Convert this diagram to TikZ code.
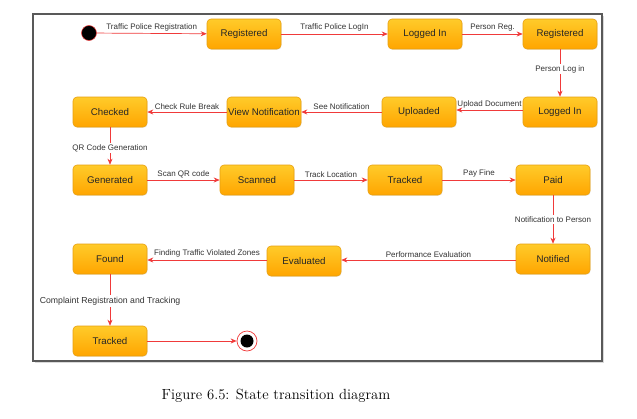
\documentclass[tikz,border=0pt]{standalone}
\usepackage{fontspec}
\newfontfamily\arial{Liberation Sans}
\usetikzlibrary{arrows.meta,shadows}
\definecolor{edgered}{HTML}{F03A3A}
\definecolor{boxtop}{HTML}{FFCB2A}
\definecolor{boxbot}{HTML}{FFA500}
\definecolor{boxline}{HTML}{E8A010}
\definecolor{lbl}{HTML}{333333}
\begin{document}
\begin{tikzpicture}[x=1pt,y=-1pt,
  state/.style={rectangle,rounded corners=4pt,minimum width=74pt,minimum height=30pt,
    top color=boxtop,bottom color=boxbot,draw=boxline,line width=0.6pt,
    font=\arial\fontsize{9.7}{11}\selectfont,text=black!85,inner sep=1pt,
    drop shadow={shadow xshift=0.6pt,shadow yshift=-0.8pt,opacity=0.15}},
  trans/.style={draw=edgered,line width=0.7pt,-{Stealth[length=6pt,width=5pt]}},
  elabel/.style={font=\arial\fontsize{8}{9}\selectfont,text=lbl,inner sep=1pt},
  vlabel/.style={elabel,fill=white,inner sep=1.5pt}]
\useasboundingbox (0,0) rectangle (637,418);
% frame
\fill[black!15] (35,16) rectangle (604,363);
\draw[black!65,line width=1.3pt,fill=white] (33,14) rectangle (602,361);
% initial / final
\node[circle,fill=black,draw=edgered,line width=0.5pt,minimum size=15pt,inner sep=0] (init) at (89,33) {};
\node[circle,draw=edgered,line width=0.7pt,fill=white,minimum size=20pt,inner sep=0] (fin) at (247,341) {};
\node[circle,fill=black,minimum size=13pt,inner sep=0] at (fin) {};
% states
\node[state] (reg1) at (244,34) {Registered};
\node[state] (log1) at (425,34) {Logged In};
\node[state] (reg2) at (560,34) {Registered};
\node[state] (log2) at (560,112) {Logged In};
\node[state] (upl) at (419,112) {Uploaded};
\node[state] (view) at (264,112) {View Notification};
\node[state] (chk) at (110,112) {Checked};
\node[state] (gen) at (110,180) {Generated};
\node[state] (scan) at (257,180) {Scanned};
\node[state] (trk) at (405,180) {Tracked};
\node[state] (paid) at (553,180) {Paid};
\node[state] (noti) at (553,259) {Notified};
\node[state] (eval) at (304,261) {Evaluated};
\node[state] (found) at (110,259) {Found};
\node[state] (trk2) at (110,341) {Tracked};
% transitions
\draw[trans] (init) -- node[elabel,above=1pt] {Traffic Police Registration} (reg1);
\draw[trans] (reg1) -- node[elabel,above=1pt] {Traffic Police LogIn} (log1);
\draw[trans] (log1) -- node[elabel,above=1pt] {Person Reg.} (reg2);
\draw[trans] (reg2) -- node[vlabel,pos=0.42] {Person Log in} (log2);
\draw[trans] (log2.west|-0,110) -- node[elabel,above=0.5pt] {Upload Document} (upl.east|-0,110);
\draw[trans] (upl) -- node[elabel,above=1pt] {See Notification} (view);
\draw[trans] (view) -- node[elabel,above=1pt] {Check Rule Break} (chk);
\draw[trans] (chk) -- node[vlabel,pos=0.55] {QR Code Generation} (gen);
\draw[trans] (gen) -- node[elabel,above=1pt] {Scan QR code} (scan);
\draw[trans] (scan) -- node[elabel,above=1pt] {Track Location} (trk);
\draw[trans] (trk) -- node[elabel,above=1pt] {Pay Fine} (paid);
\draw[trans] (paid) -- node[vlabel,pos=0.5] {Notification to Person} (noti);
\draw[trans] (noti.west|-0,260) -- node[elabel,above=1pt] {Performance Evaluation} (eval.east|-0,260);
\draw[trans] (eval.west|-0,260) -- node[elabel,above=1pt] {Finding Traffic Violated Zones} (found.east|-0,260);
\draw[trans] (found) -- node[vlabel,pos=0.52,font=\arial\fontsize{8.7}{10}\selectfont] {Complaint Registration and Tracking} (trk2);
\draw[trans] (trk2) -- (fin);
% caption
\node[font=\fontsize{14.7}{17}\selectfont] (cap) at (276,396) {Figure 6.5: State transition diagram};
\end{tikzpicture}
\end{document}
